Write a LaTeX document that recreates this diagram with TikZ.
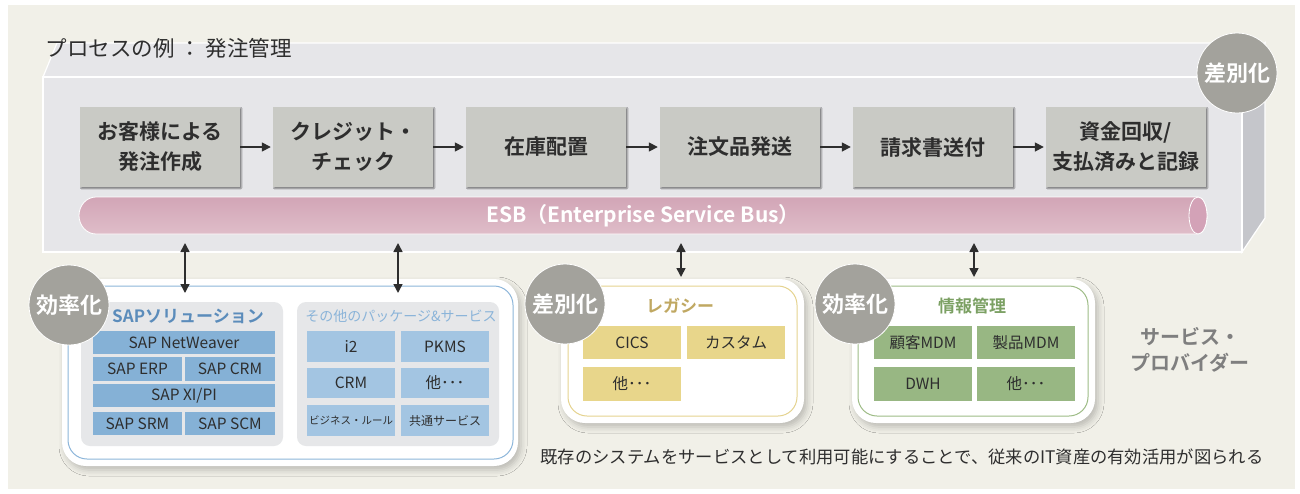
\documentclass[tikz,border=0pt]{standalone}
\usepackage{fontspec}
\setmainfont{Noto Sans CJK JP}[BoldFont={Noto Sans CJK JP Bold}]
\usetikzlibrary{arrows.meta,shadows.blur}

\definecolor{bgbeige}{HTML}{F1F0E8}
\definecolor{boxface}{HTML}{E6E6E9}
\definecolor{boxside}{HTML}{C5C6CB}
\definecolor{procgray}{HTML}{C9CAC5}
\definecolor{textdark}{HTML}{2E2E2E}
\definecolor{esbtop}{HTML}{D2A5B6}
\definecolor{esbbot}{HTML}{DFBDC9}
\definecolor{esbend}{HTML}{D3A2B7}
\definecolor{badgegray}{HTML}{A3A29C}
\definecolor{sapline}{HTML}{8DB6DA}
\definecolor{sapblue}{HTML}{85B1D6}
\definecolor{pkgblue}{HTML}{A3C5E2}
\definecolor{saptitle}{HTML}{5B8CBB}
\definecolor{pkgtitle}{HTML}{8BB4D9}
\definecolor{panelgray}{HTML}{E6E7E9}
\definecolor{legline}{HTML}{E5D38F}
\definecolor{legcell}{HTML}{E8D68B}
\definecolor{legtitle}{HTML}{C0A862}
\definecolor{mdmline}{HTML}{9EBC86}
\definecolor{mdmcell}{HTML}{98B783}
\definecolor{mdmtitle}{HTML}{7BA063}
\definecolor{provgray}{HTML}{7F7F7F}

\tikzset{procbox/.style = {fill=procgray, minimum width=160, minimum height=80, inner sep=0,
                           align=center, text=textdark, font=\fontsize{21}{30}\selectfont\bfseries,
                           blur shadow={shadow xshift=1.2pt, shadow yshift=-1.2pt,
                                        shadow blur radius=0.8pt, shadow opacity=45}},
         flow/.style = {-{Triangle[length=9pt,width=9pt]}, line width=1.6pt, draw=textdark, shorten >=2pt},
         link/.style = {{Triangle[length=9pt,width=9pt]}-{Triangle[length=9pt,width=9pt]},
                        line width=1.6pt, draw=textdark},
         badge/.style = {circle, fill=badgegray, draw=white, line width=0.8pt, minimum size=80,
                         inner sep=0, text=white, font=\fontsize{22}{22}\selectfont\bfseries},
         grpwhite/.style = {rounded corners=24, fill=white, inner sep=0,
                            blur shadow={shadow xshift=3pt, shadow yshift=-4pt,
                                         shadow blur radius=6pt, shadow opacity=22}},
         grpline/.style = {rounded corners=19, draw=#1, line width=1pt, inner sep=0},
         subpanel/.style = {rounded corners=9, fill=panelgray, inner sep=0,
                            minimum width=202, minimum height=144},
         cell/.style = {fill=#1, inner sep=0, text=textdark, font=\fontsize{15.5}{15.5}\selectfont},
         cell/.default = sapblue,
         wh/.style 2 args = {minimum width=#1, minimum height=#2},
         grptitle/.style = {text=#1, font=\fontsize{17}{17}\selectfont\bfseries}
        }

\begin{document}
\begin{tikzpicture}[x=1pt,y=-1pt]
  \useasboundingbox (0,0) rectangle (1300,493);
  \fill[white] (0,0) rectangle (1300,493);
  \fill[bgbeige] (8,5) rectangle (1295,489);

  \filldraw[fill=boxface, draw=white, line width=1.2pt] (43,77) -- (57,43) -- (1265,43) -- (1242,77) -- cycle;
  \filldraw[fill=boxside, draw=white, line width=1.2pt] (1242,77) -- (1265,43) -- (1265,218) -- (1242,252) -- cycle;
  \filldraw[fill=boxface, draw=white, line width=1.2pt] (43,77) rectangle (1242,252);
  \node[anchor=west, text=textdark, font=\fontsize{21.5}{21.5}\selectfont] (title) at (42,48) {プロセスの例 ： 発注管理};

  \node[procbox] (p1) at (160,147) {お客様による\\発注作成};
  \node[procbox] (p2) at (353,147) {クレジット・\\チェック};
  \node[procbox] (p3) at (546,147) {在庫配置};
  \node[procbox] (p4) at (740,147) {注文品発送};
  \node[procbox] (p5) at (933,147) {請求書送付};
  \node[procbox] (p6) at (1126,147) {資金回収/\\支払済みと記録};
  \foreach \a/\b in {p1/p2,p2/p3,p3/p4,p4/p5,p5/p6}
    \draw[flow] (\a) -- (\b);

  \shade[top color=esbtop, bottom color=esbbot, draw=white, line width=0.8pt]
    (96,197) -- (1198,197) arc(-90:90:9 and 18.5) -- (96,234) arc(90:270:17 and 18.5) -- cycle;
  \filldraw[fill=esbend, draw=white, line width=0.8pt] (1198,215.5) ellipse (9 and 18.5);
  \node[text=white, font=\fontsize{21}{21}\selectfont\bfseries] (esb) at (643,215.5) {ESB（Enterprise Service Bus）};

  \node[grpwhite, wh={456}{187}] (sapgrp) at (290,372.5) {};
  \node[grpline=sapline, wh={445}{173}] (sapframe) at (290.5,372.5) {};
  \node[subpanel] (sappanel) at (182,374) {};
  \node[subpanel] (pkgpanel) at (398,374) {};
  \node[grptitle=saptitle] (saptitle) at (188,316) {SAPソリューション};
  \node[text=pkgtitle, font=\fontsize{14}{14}\selectfont] (pkgtitle) at (401,316) {その他のパッケージ\&サービス};
  \node[cell, wh={182}{23}] (netweaver) at (184,342.5) {SAP NetWeaver};
  \node[cell, wh={89}{24}] (erp) at (137.5,369) {SAP ERP};
  \node[cell, wh={90}{24}] (crm) at (230,369) {SAP CRM};
  \node[cell, wh={182}{23}] (xipi) at (184,395.5) {SAP XI/PI};
  \node[cell, wh={89}{23}] (srm) at (137.5,423.5) {SAP SRM};
  \node[cell, wh={90}{23}] (scm) at (230,423.5) {SAP SCM};
  \node[cell=pkgblue, wh={88}{31}] (i2) at (351,346.5) {i2};
  \node[cell=pkgblue, wh={88}{31}] (pkms) at (445,346.5) {PKMS};
  \node[cell=pkgblue, wh={88}{30}] (crmpkg) at (351,383) {CRM};
  \node[cell=pkgblue, wh={88}{30}] (etcpkg) at (445,383) {他･･･};
  \node[cell=pkgblue, wh={88}{31}, font=\fontsize{10.5}{10.5}\selectfont] (rules) at (351,420.5) {ビジネス・ルール};
  \node[cell=pkgblue, wh={88}{31}, font=\fontsize{12}{12}\selectfont] (common) at (445,420.5) {共通サービス};

  \node[grpwhite, wh={243}{144}] (leggrp) at (682.5,351) {};
  \node[grpline=legline, wh={229}{130}] (legframe) at (682.5,351) {};
  \node[grptitle=legtitle] (legtitle) at (680,306) {レガシー};
  \node[cell=legcell, wh={98}{33}] (cics) at (632,342.5) {CICS};
  \node[cell=legcell, wh={98}{33}] (custom) at (736,342.5) {カスタム};
  \node[cell=legcell, wh={98}{34}] (etcleg) at (632,384) {他･･･};

  \node[grpwhite, wh={243}{144}] (mdmgrp) at (973.5,351) {};
  \node[grpline=mdmline, wh={230}{130}] (mdmframe) at (973,351) {};
  \node[grptitle=mdmtitle] (mdmtitle) at (972,306) {情報管理};
  \node[cell=mdmcell, wh={98}{33}] (custmdm) at (923,342.5) {顧客MDM};
  \node[cell=mdmcell, wh={98}{33}] (prodmdm) at (1026,342.5) {製品MDM};
  \node[cell=mdmcell, wh={98}{34}] (dwh) at (923,384) {DWH};
  \node[cell=mdmcell, wh={98}{34}] (etcmdm) at (1026,384) {他･･･};

  \foreach \i/\x/\y in {1/185/293, 2/398/293, 3/681/277, 4/974/277} {
    \coordinate (up\i) at (\x,243);
    \coordinate (down\i) at (\x,\y);
    \draw[link] (up\i) -- (down\i);
  }

  \node[badge] (diffbox) at (1237,73) {差別化};
  \node[badge] (effsap) at (69,305) {効率化};
  \node[badge] (difflegacy) at (565,304) {差別化};
  \node[badge] (effmdm) at (855,304) {効率化};

  \node[align=center, text=provgray, font=\fontsize{20}{26}\selectfont\bfseries] (provider) at (1190,350) {サービス・\\プロバイダー};
  \node[text=textdark, font=\fontsize{17.3}{17.3}\selectfont] (caption) at (902,457) {既存のシステムをサービスとして利用可能にすることで、従来のIT資産の有効活用が図られる};
\end{tikzpicture}
\end{document}
